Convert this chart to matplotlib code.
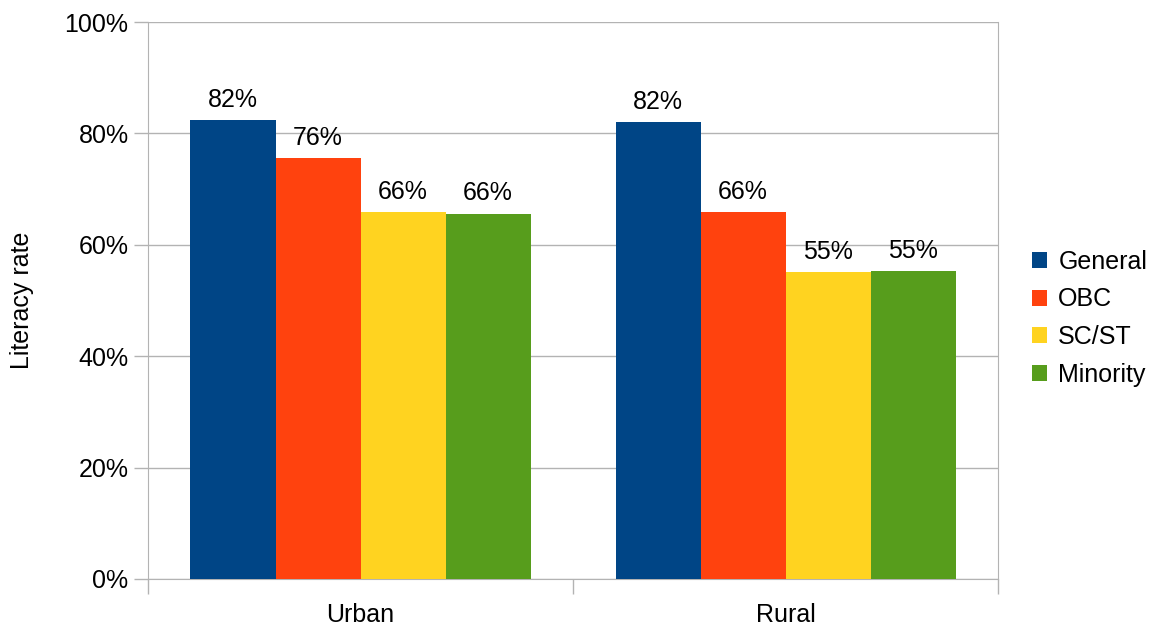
import numpy as np
import matplotlib
matplotlib.use("Agg")
from matplotlib import pyplot as plt
from matplotlib.ticker import FuncFormatter

plt.rcParams['font.family'] = ['Liberation Sans', 'DejaVu Sans']

areas = ["Urban", "Rural"]
groups = ["General", "OBC", "SC/ST", "Minority"]
general = [82.4, 82.0]
obc = [75.6, 65.9]
scst = [65.9, 55.1]
minority = [65.6, 55.3]
shown = [["82%", "76%", "66%", "66%"], ["82%", "66%", "55%", "55%"]]

colors = ["#004586", "#ff420e", "#ffd320", "#579d1c"]
grid_c = "#b3b3b3"
fs = 18

fig = plt.figure(figsize=(11.53, 6.26), dpi=100)
ax = fig.add_axes([148/1153, 1-579/626, 850/1153, 557/626])

x = np.arange(len(areas))
w = 0.2
series = [general, obc, scst, minority]
for i, (vals, name) in enumerate(zip(series, groups)):
    pos = x + (i - 1.5) * w
    ax.bar(pos, vals, w, color=colors[i], label=name, zorder=3)
    for j, v in enumerate(vals):
        ax.annotate(shown[j][i], (pos[j], v), xytext=(0, 6), textcoords="offset points",
                    ha="center", va="bottom", fontsize=fs, color="black")

ax.set_xlim(-0.5, 1.5)
ax.set_ylim(0, 100)
ax.set_yticks(np.arange(0, 101, 20))
ax.yaxis.set_major_formatter(FuncFormatter(lambda v, p: f"{v:.0f}%"))
ax.grid(axis="y", color=grid_c, linewidth=1, zorder=0)

ax.set_xticks([-0.5, 0.5, 1.5])
ax.set_xticklabels([])
ax.set_xticks(x, minor=True)
ax.set_xticklabels(areas, minor=True)
ax.tick_params(axis="x", which="major", length=11, color=grid_c, width=1)
ax.tick_params(axis="x", which="minor", length=0, labelsize=fs, pad=17)
ax.tick_params(axis="y", length=10, color=grid_c, width=1, labelsize=fs, pad=4)

for s in ["left", "right"]:
    ax.spines[s].set_color(grid_c)
ax.spines["top"].set_visible(False)
ax.spines["bottom"].set_color(grid_c)

ax.set_ylabel("Literacy rate", fontsize=fs, labelpad=22)

ax.legend(loc="center left", bbox_to_anchor=(1.04, 0.468), frameon=False, fontsize=fs,
          borderaxespad=0, borderpad=0,
          handlelength=0.6, handleheight=0.6, handletextpad=0.45, labelspacing=0.55)

fig.savefig("out.png", dpi=100)
